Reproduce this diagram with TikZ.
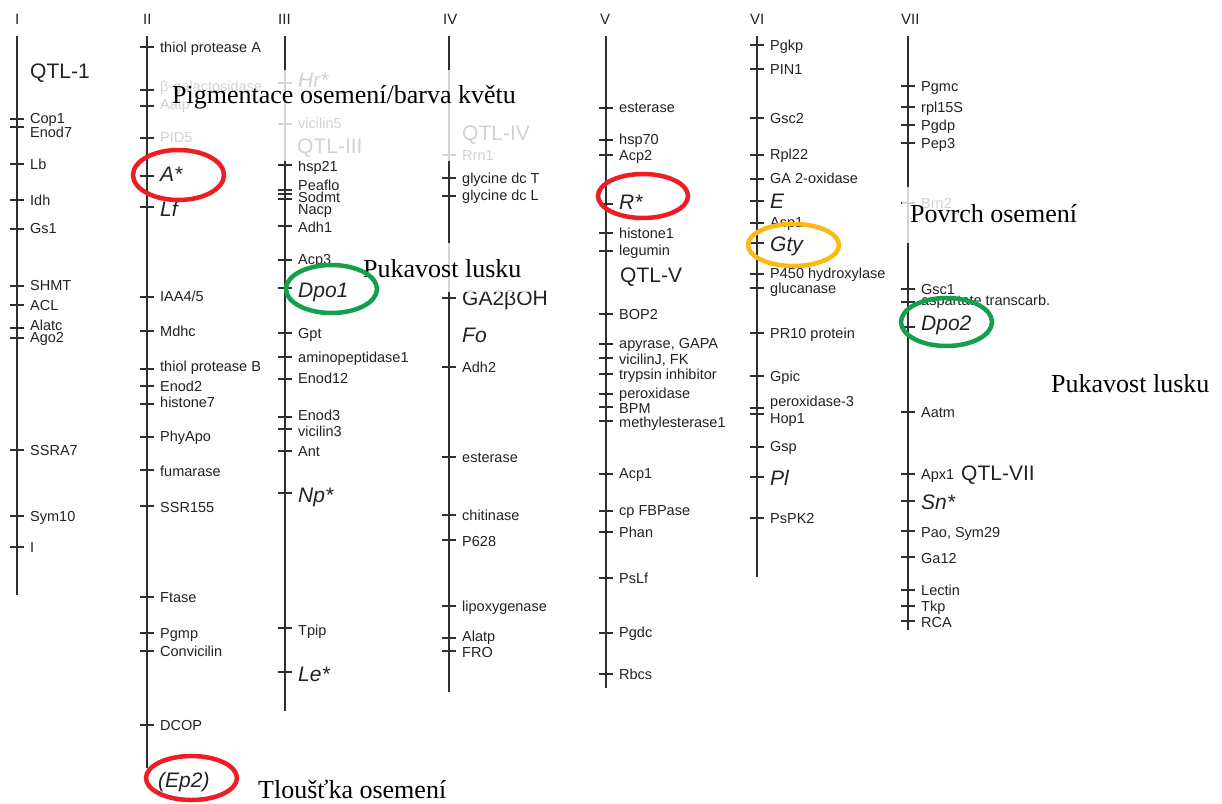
\documentclass[tikz,border=0pt]{standalone}
\usepackage{fontspec}
\setmainfont{Liberation Serif}
\newfontfamily\lsans{Liberation Sans}
\usetikzlibrary{shapes.geometric}
\definecolor{ink}{HTML}{222222}
\definecolor{chrom}{HTML}{2E2E2E}
\definecolor{mkred}{HTML}{EE1C25}
\definecolor{mkgreen}{HTML}{14A04B}
\definecolor{mkorange}{HTML}{FDB913}
\newcounter{gn}
\newcommand\mk[5][]{\stepcounter{gn}%
  \draw[tickl] (#2-7,#3) -- (#2+7,#3);%
  \node[lbl,#1] (g\thegn) at (#2+13,#4+5) {#5};}
\tikzset{
  chromline/.style={draw=chrom, line width=2.7pt},
  tickl/.style={draw=chrom, line width=1.2pt},
  lbl/.style={font=\lsans\fontsize{14.5}{14.5}\selectfont, anchor=base west, inner sep=0pt, text=ink},
  big/.style={font=\lsans\fontsize{21}{21}\selectfont, yshift=-2.5pt},
  bigit/.style={font=\lsans\itshape\fontsize{21}{21}\selectfont, yshift=-2.5pt},
  roman/.style={font=\lsans\fontsize{15}{15}\selectfont, anchor=base west, inner sep=0pt, text=ink},
  czech/.style={font=\fontsize{26}{26}\selectfont, anchor=base west, inner sep=0pt, text=black},
  veil/.style={fill=white, fill opacity=0.8, draw=none},
  ring/.style={ellipse, draw=#1, line width=4.5pt, fill=none, inner sep=0pt},
}
\begin{document}
\begin{tikzpicture}[x=1pt,y=-1pt]
\useasboundingbox[fill=white] (0,0) rectangle (1222,803);
% chromosome names
\node[roman] (nI) at (15,24) {I};
\node[roman] (nII) at (143,24) {II};
\node[roman] (nIII) at (278,24) {III};
\node[roman] (nIV) at (443,24) {IV};
\node[roman] (nV) at (600,24) {V};
\node[roman] (nVI) at (750,24) {VI};
\node[roman] (nVII) at (901,24) {VII};
% chromosome lines
\coordinate (t1) at (17,36); \coordinate (b1) at (17,595);
\coordinate (t2) at (147,36); \coordinate (b2) at (147,768);
\coordinate (t3) at (285,36); \coordinate (b3) at (285,711);
\coordinate (t4) at (449,36); \coordinate (b4) at (449,692);
\coordinate (t5) at (606,36); \coordinate (b5) at (606,688);
\coordinate (t6) at (757,36); \coordinate (b6) at (757,577);
\coordinate (t7) at (908,36); \coordinate (b7) at (908,630);
\foreach \i in {1,...,7} {\draw[chromline] (t\i) -- (b\i);}
% ---- I
\node[lbl,big] (q1) at (30,76) {QTL-1};
\mk{17}{119}{118}{Cop1}
\mk{17}{127}{132}{Enod7}
\mk{17}{164}{164}{Lb}
\mk{17}{200}{200}{Idh}
\mk{17}{229}{228}{Gs1}
\mk{17}{286}{285}{SHMT}
\mk{17}{305}{305}{ACL}
\mk{17}{328}{325}{Alatc}
\mk{17}{338}{337}{Ago2}
\mk{17}{450}{450}{SSRA7}
\mk{17}{516}{516}{Sym10}
\mk{17}{547}{547}{I}
% ---- II
\mk{147}{47}{47}{thiol protease A}
\mk{147}{90}{86}{β-galactosidase}
\mk{147}{106}{104}{Aatp}
\mk{147}{138}{137}{PID5}
\mk[bigit]{147}{176}{174}{A*}
\mk[bigit]{147}{207}{209}{Lf}
\mk{147}{297}{296}{IAA4/5}
\mk{147}{331}{331}{Mdhc}
\mk{147}{369}{366}{thiol protease B}
\mk{147}{386}{386}{Enod2}
\mk{147}{404}{402}{histone7}
\mk{147}{437}{436}{PhyApo}
\mk{147}{470}{471}{fumarase}
\mk{147}{506}{507}{SSR155}
\mk{147}{597}{597}{Ftase}
\mk{147}{633}{633}{Pgmp}
\mk{147}{651}{651}{Convicilin}
\mk{147}{725}{725}{DCOP}
\node[lbl,bigit] (ep2) at (158,785) {(Ep2)};
% ---- III
\mk[bigit]{285}{83}{80}{Hr*}
\mk{285}{124}{123}{vicilin5}
\node[lbl,big] (q3) at (297,151) {QTL-III};
\mk{285}{165}{166}{hsp21}
\mk{285}{190}{185}{Peaflo}
\mk{285}{194}{197}{Sodmt}
\mk{285}{199}{209}{Nacp}
\mk{285}{226}{227}{Adh1}
\mk{285}{260}{259}{Acp3}
\mk[bigit]{285}{288}{290}{Dpo1}
\mk{285}{333}{333}{Gpt}
\mk{285}{357}{357}{aminopeptidase1}
\mk{285}{379}{378}{Enod12}
\mk{285}{417}{415}{Enod3}
\mk{285}{429}{431}{vicilin3}
\mk{285}{451}{451}{Ant}
\mk[bigit]{285}{493}{495}{Np*}
\mk{285}{628}{630}{Tpip}
\mk[bigit]{285}{672}{674}{Le*}
% ---- IV
\node[lbl,big] (q4) at (462,138) {QTL-IV};
\mk{449}{155}{155}{Rrn1}
\mk{449}{178}{178}{glycine dc T}
\mk{449}{196}{195}{glycine dc L}
\mk[big]{449}{298}{298}{GA2βOH}
\node[lbl,bigit] (fo) at (462,340) {Fo};
\mk{449}{367}{367}{Adh2}
\mk{449}{457}{457}{esterase}
\mk{449}{515}{515}{chitinase}
\mk{449}{540}{541}{P628}
\mk{449}{606}{606}{lipoxygenase}
\mk{449}{638}{636}{Alatp}
\mk{449}{651}{652}{FRO}
% ---- V
\mk{606}{108}{107}{esterase}
\mk{606}{140}{139}{hsp70}
\mk{606}{155}{155}{Acp2}
\mk[bigit]{606}{204}{202}{R*}
\mk{606}{233}{233}{histone1}
\mk{606}{251}{250}{legumin}
\node[lbl,big] (q5) at (620,280) {QTL-V};
\mk{606}{314}{314}{BOP2}
\mk{606}{344}{343}{apyrase, GAPA}
\mk{606}{358}{359}{vicilinJ, FK}
\mk{606}{374}{374}{trypsin inhibitor}
\mk{606}{394}{393}{peroxidase}
\mk{606}{407}{408}{BPM}
\mk{606}{421}{422}{methylesterase1}
\mk{606}{474}{473}{Acp1}
\mk{606}{511}{510}{cp FBPase}
\mk{606}{532}{532}{Phan}
\mk{606}{578}{578}{PsLf}
\mk{606}{633}{632}{Pgdc}
\mk{606}{674}{674}{Rbcs}
% ---- VI
\mk{757}{45}{45}{Pgkp}
\mk{757}{69}{69}{PIN1}
\mk{757}{118}{118}{Gsc2}
\mk{757}{155}{154}{Rpl22}
\mk{757}{179}{178}{GA 2-oxidase}
\mk[bigit]{757}{201}{201}{E}
\mk{757}{223}{222}{Asp1}
\mk[bigit]{757}{243}{244}{Gty}
\mk{757}{274}{273}{P450 hydroxylase}
\mk{757}{288}{288}{glucanase}
\mk{757}{333}{333}{PR10 protein}
\mk{757}{376}{376}{Gpic}
\mk{757}{408}{401}{peroxidase-3}
\mk{757}{414}{418}{Hop1}
\mk{757}{447}{446}{Gsp}
\mk[bigit]{757}{477}{478}{Pl}
\mk{757}{518}{518}{PsPK2}
% ---- VII
\mk{908}{86}{86}{Pgmc}
\mk{908}{107}{107}{rpl15S}
\mk{908}{125}{125}{Pgdp}
\mk{908}{143}{143}{Pep3}
\mk{908}{203}{203}{Brn2}
\mk{908}{289}{289}{Gsc1}
\mk{908}{302}{300}{aspartate transcarb.}
\mk[bigit]{908}{327}{323}{Dpo2}
\mk{908}{412}{412}{Aatm}
\mk{908}{474}{474}{Apx1}
\node[lbl,big] (q7) at (961,478) {QTL-VII};
\mk[bigit]{908}{501}{502}{Sn*}
\mk{908}{531}{532}{Pao, Sym29}
\mk{908}{557}{558}{Ga12}
\mk{908}{590}{590}{Lectin}
\mk{908}{606}{606}{Tkp}
\mk{908}{621}{622}{RCA}
% ---- veils behind the annotations
\fill[veil] (155,70) rectangle (560,161);
\fill[veil] (355,243) rectangle (532,292);
\fill[veil] (902,187) rectangle (1086,243);
% ---- annotations
\node[czech] (c1) at (172,103) {Pigmentace osemení/barva květu};
\node[czech] (c2) at (363,277) {Pukavost lusku};
\node[czech] (c3) at (910,222) {Povrch osemení};
\node[czech] (c4) at (1051,392) {Pukavost lusku};
\node[czech] (c5) at (258,798) {Tloušťka osemení};
% ---- rings
\node[ring=mkred, minimum width=91pt, minimum height=50pt] (rA) at (178.5,175) {};
\node[ring=mkred, minimum width=91pt, minimum height=44pt] (rEp) at (191.5,778) {};
\node[ring=mkred, minimum width=90pt, minimum height=44pt] (rR) at (643,196) {};
\node[ring=mkgreen, minimum width=91pt, minimum height=48pt] (rD1) at (331.5,289) {};
\node[ring=mkgreen, minimum width=91pt, minimum height=48pt] (rD2) at (946.5,322) {};
\node[ring=mkorange, minimum width=91pt, minimum height=42pt] (rG) at (793.5,245) {};
\end{tikzpicture}
\end{document}
